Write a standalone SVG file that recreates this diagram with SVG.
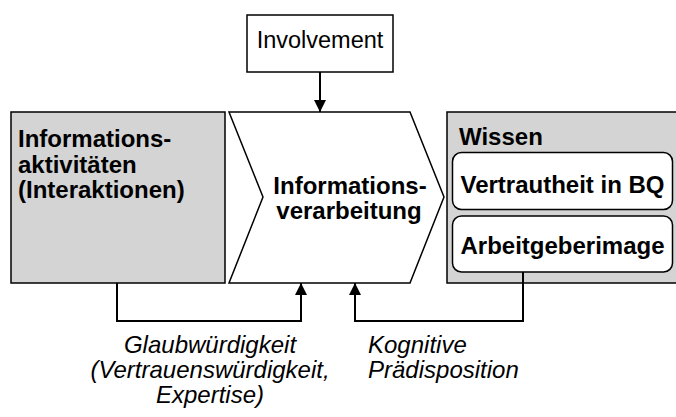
<svg xmlns="http://www.w3.org/2000/svg" width="676" height="417" viewBox="0 0 676 417">
<defs>
<style>
.box{stroke:#000;stroke-width:1.5}
.grey{fill:#d4d4d4}
.white{fill:#fff}
.b{font-family:"Liberation Sans",Arial,sans-serif;font-weight:bold;font-size:24px;fill:#000}
.r{font-family:"Liberation Sans",Arial,sans-serif;font-size:23.5px;fill:#000}
.i{font-family:"Liberation Sans",Arial,sans-serif;font-style:italic;font-size:24px;fill:#000}
.conn{fill:none;stroke:#000;stroke-width:2}
</style>
<marker id="arr" viewBox="0 0 12 12" refX="12" refY="6" markerWidth="12" markerHeight="12" markerUnits="userSpaceOnUse" orient="auto">
<path d="M0,0 L12,6 L0,12 z" fill="#000"/>
</marker>
</defs>
<g id="involvement">
<rect class="box white" x="247" y="15" width="146" height="57"/>
<text class="r" x="320" y="48" text-anchor="middle">Involvement</text>
</g>
<g id="informationsaktivitaeten">
<rect class="box grey" x="11" y="112" width="214" height="171"/>
<text class="b" x="18" y="147">Informations-</text>
<text class="b" x="18" y="173">aktivitäten</text>
<text class="b" x="18" y="198">(Interaktionen)</text>
</g>
<g id="informationsverarbeitung">
<path class="box white" d="M229,112 L410,112 L444,197 L410,283 L229,283 L263,197 Z"/>
<text class="b" x="350" y="194" text-anchor="middle">Informations-</text>
<text class="b" x="349" y="219" text-anchor="middle">verarbeitung</text>
</g>
<g id="wissen">
<rect class="box grey" x="447" y="112" width="240" height="171"/>
<text class="b" x="459" y="145">Wissen</text>
</g>
<g id="vertrautheit">
<rect class="box white" x="452.5" y="152.5" width="220" height="57" rx="9"/>
<text class="b" x="562.5" y="193" text-anchor="middle">Vertrautheit in BQ</text>
</g>
<g id="arbeitgeberimage">
<rect class="box white" x="452.5" y="216" width="220" height="56" rx="9"/>
<text class="b" x="562.5" y="254" text-anchor="middle">Arbeitgeberimage</text>
</g>
<g id="connectors">
<path class="conn" d="M320,72 L320,112" marker-end="url(#arr)"/>
<path class="conn" d="M117,283 L117,321 L301,321 L301,283" marker-end="url(#arr)"/>
<path class="conn" d="M523,272 L523,321 L355,321 L355,283" marker-end="url(#arr)"/>
</g>
<g id="labels">
<text class="i" x="210" y="353" text-anchor="middle">Glaubwürdigkeit</text>
<text class="i" x="210" y="378" text-anchor="middle">(Vertrauenswürdigkeit,</text>
<text class="i" x="210" y="403" text-anchor="middle">Expertise)</text>
<text class="i" x="368" y="353">Kognitive</text>
<text class="i" x="368" y="378">Prädisposition</text>
</g>
</svg>
